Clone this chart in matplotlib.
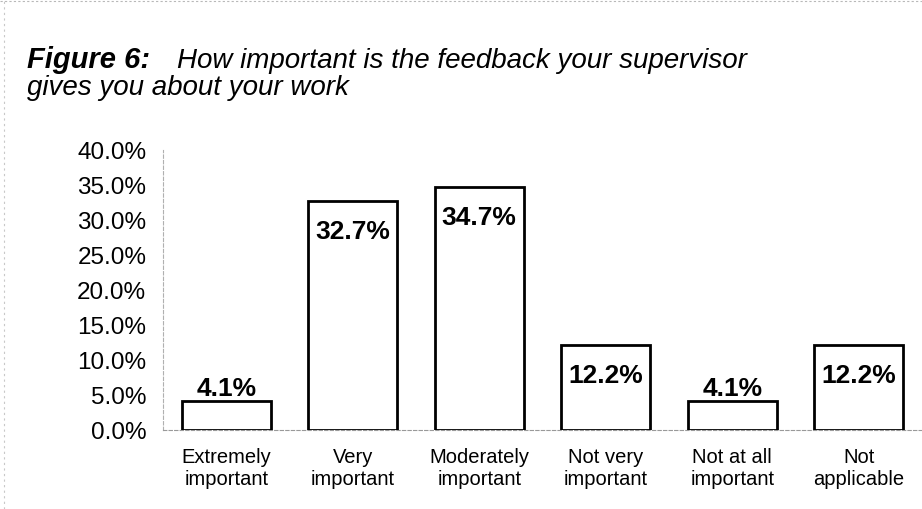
import matplotlib
matplotlib.use("Agg")
import matplotlib.pyplot as plt
from matplotlib.lines import Line2D

plt.rcParams['font.family'] = ['Liberation Sans', 'DejaVu Sans']

categories = ['Extremely\nimportant', 'Very\nimportant', 'Moderately\nimportant',
              'Not very\nimportant', 'Not at all\nimportant', 'Not\napplicable']
values = [4.1, 32.7, 34.7, 12.2, 4.1, 12.2]
yticks = [0, 5, 10, 15, 20, 25, 30, 35, 40]

fig = plt.figure(figsize=(9.22, 5.10), dpi=100)
ax = fig.add_axes([0.1768, 0.155, 0.8232, 0.549])

x = list(range(len(values)))
ax.bar(x, values, width=0.7, color='white', edgecolor='black', linewidth=2.0, zorder=3)

# small bars get their label above, tall ones inside near the top
for xi, v in zip(x, values):
    if v < 8:
        ax.annotate(f'{v:.1f}%', (xi, v), xytext=(0, 1), textcoords='offset points',
                    ha='center', va='bottom', fontsize=19, fontweight='bold')
    else:
        ax.annotate(f'{v:.1f}%', (xi, v), xytext=(0, -13), textcoords='offset points',
                    ha='center', va='top', fontsize=19, fontweight='bold')

ax.set_xlim(-0.5, len(values) - 0.5)
ax.set_ylim(0, 40)
ax.set_yticks(yticks)
ax.set_yticklabels([f'{t:.1f}%' for t in yticks], fontsize=17.5)
ax.set_xticks(x)
ax.set_xticklabels(categories, fontsize=14.5, linespacing=1.25)
ax.tick_params(axis='both', length=0)
ax.tick_params(axis='y', pad=12)
ax.tick_params(axis='x', pad=12)

for side in ['top', 'right']:
    ax.spines[side].set_visible(False)
ax.spines['left'].set_color('#b0b0b0')
ax.spines['left'].set_linewidth(0.8)
ax.spines['left'].set_linestyle((0, (3, 2)))
ax.spines['bottom'].set_color('#999999')
ax.spines['bottom'].set_linewidth(0.8)
ax.spines['bottom'].set_linestyle((0, (3, 2)))

# title: bold-italic figure number followed by italic question
fig.text(0.029, 0.8667, 'Figure 6:', fontsize=21, fontweight='bold', fontstyle='italic',
         va='baseline')
fig.text(0.192, 0.8667, 'How important is the feedback your supervisor',
         fontsize=20, fontstyle='italic', va='baseline')
fig.text(0.029, 0.8137, 'gives you about your work', fontsize=20, fontstyle='italic',
         va='baseline')

# faint dotted page border along top and left
fig.add_artist(Line2D([0.0, 1.0], [0.996, 0.996], color='#b8b8b8', lw=0.8,
                      linestyle=(0, (2, 2)), transform=fig.transFigure))
fig.add_artist(Line2D([0.004, 0.004], [0.0, 1.0], color='#c8c8c8', lw=0.8,
                      linestyle=(0, (2, 3)), transform=fig.transFigure))

fig.savefig('out.png', dpi=100, facecolor='white')
